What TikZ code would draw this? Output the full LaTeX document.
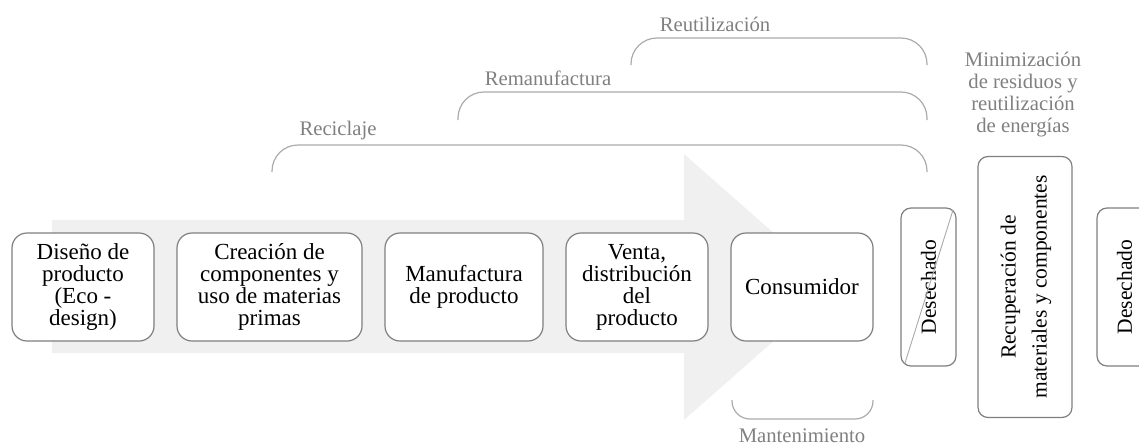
\documentclass[tikz,border=0pt]{standalone}
\usepackage{fontspec}
\setmainfont{Liberation Serif}
\usepackage{graphicx}
\usetikzlibrary{positioning}
\definecolor{boxgray}{HTML}{7F7F7F}
\definecolor{labelgray}{HTML}{808080}
\definecolor{bracegray}{HTML}{ABABAB}
\definecolor{arrowgray}{HTML}{F0F0F0}
\tikzset{
	node_step/.style = {
		draw=boxgray,
		line width=1.2pt,
		fill=white,
		rounded corners=15pt,
		align=center,
		inner sep=2pt,
		outer sep=0pt,
		minimum height=108pt,
		font=\fontsize{23}{22}\selectfont
	},
	node_side/.style = {
		node_step,
		rounded corners=10pt,
		minimum width=55pt,
		minimum height=158pt,
		font=\fontsize{21.5}{31}\selectfont
	},
	node_label/.style = {
		text=labelgray,
		align=center,
		inner sep=0pt,
		font=\fontsize{20.7}{22}\selectfont
	},
	brace_line/.style = {
		draw=bracegray,
		line width=1.2pt,
		rounded corners=26pt
	},
	slash_line/.style = {
		draw=bracegray,
		line width=0.9pt
	},
}

\begin{document}
\begin{tikzpicture}[x=1pt,y=-1pt]
\clip (0,0) rectangle (1139,447);
% big background arrow
\fill[arrowgray] (52,220) -- (684,220) -- (684,154) -- (835,287) -- (684,420) -- (684,353) -- (52,353) -- cycle;
% life cycle steps
\node[node_step, minimum width=142pt] (dis) at (83,287) {Diseño de\\producto\\(Eco -\\design)};
\node[node_step, minimum width=185pt, right=23pt of dis] (cre) {Creación de\\componentes y\\uso de materias\\primas};
\node[node_step, minimum width=158pt, right=23pt of cre] (man) {Manufactura\\de producto};
\node[node_step, minimum width=142pt, right=23pt of man] (ven) {Venta,\\distribución\\del\\producto};
\node[node_step, minimum width=142pt, right=23pt of ven] (con) {Consumidor};
% end of life
\node[node_side, right=28pt of con] (des_a) {\rotatebox{90}{Desechado}};
\node[node_side, minimum width=94pt, minimum height=261pt, right=22pt of des_a] (rec) {\rotatebox{90}{\begin{tabular}{@{}c@{}}Recuperación de\\materiales y componentes\end{tabular}}};
\node[node_side, right=25pt of rec] (des_b) {\rotatebox{90}{Desechado}};
\draw[slash_line] ([shift={(4,-3)}]des_a.south west) -- ([shift={(-3,2)}]des_a.north east);
% loops over the chain
\draw[brace_line] (631,65) -- (631,38) -- (927,38) -- (927,65);
\draw[brace_line] (458,120) -- (458,92) -- (927,92) -- (927,120);
\draw[brace_line] (272,172) -- (272,145) -- (927,145) -- (927,172);
\draw[brace_line, rounded corners=18pt] (732,400) -- (732,419) -- (873,419) -- (873,400);
\node[node_label] (reu) at (715,24) {Reutilización};
\node[node_label] (rem) at (548,78) {Remanufactura};
\node[node_label] (rcl) at (338,131) {Reciclaje};
\node[node_label] (mnt) at (802,436) {Mantenimiento};
\node[node_label] (mnz) at (1023,95) {Minimización\\de residuos y\\reutilización\\de energías};
\end{tikzpicture}
\end{document}
